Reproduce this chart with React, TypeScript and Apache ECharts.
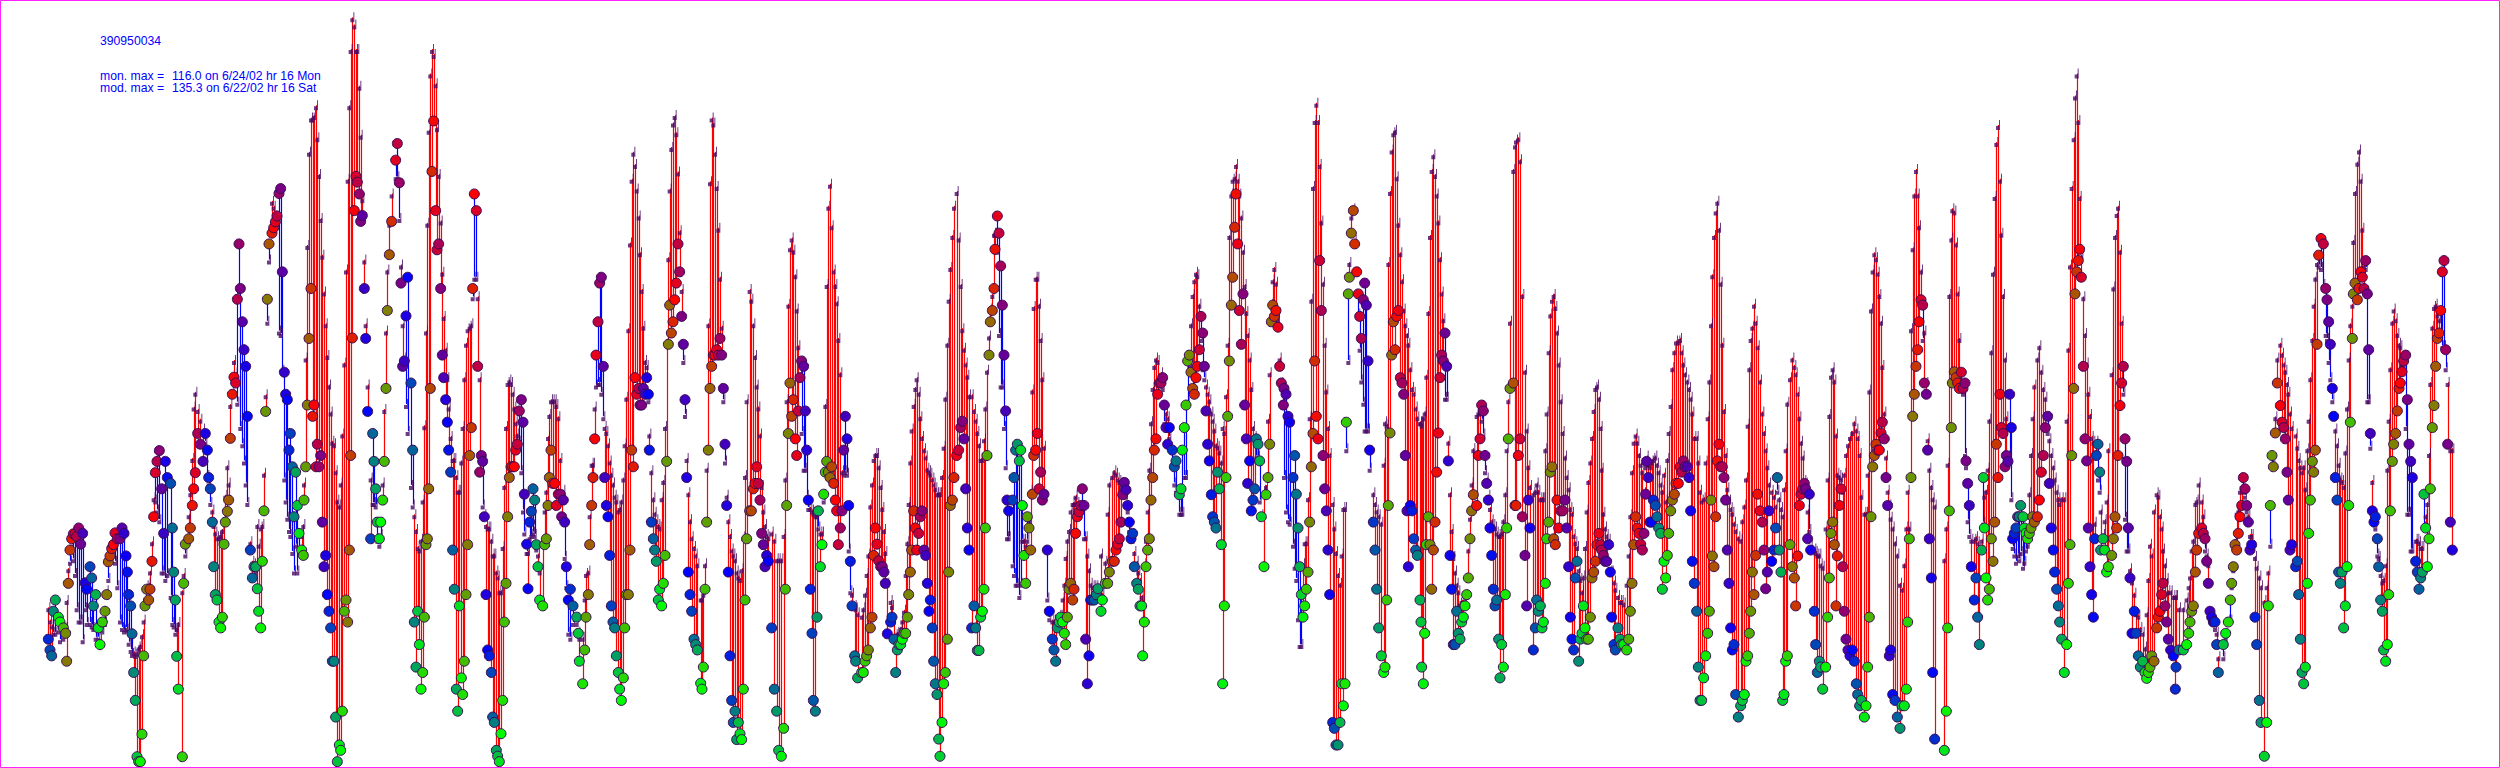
import React, { useEffect, useRef } from "react";
import * as echarts from "echarts";

// Readings from the picture: [position along the time axis, model reading, monitor reading]
const stretch1 = [[55,1240,1305],[60,1265,1327],[65,1275,1339],[70,1290,1248],[76,1290,1225],[85,1285,1260],[90,1305,1270],[100,1300,1282],[107,1280,1293],[110,1225,1350],[115,1160,1191],[120,1145,1123],[125,1110,1100],[130,1140,1090],[135,1170,1090],[140,1240,1095],[146,1265,1078],[152,1265,1111],[158,1305,1089],[165,1240,1190],[170,1270,1203],[180,1270,1157],[185,1275,1180],[190,1280,1237],[197,1300,1214],[205,1300,1282],[210,1305,1316],[217,1285,1270],[225,1270,1248],[230,1205,1214],[235,1180,1147],[240,1125,1135],[245,1115,1120],[250,1100,1112],[255,1145,1088],[262,1195,1100],[270,1265,1100],[276,1280,1078],[282,1285,1089],[288,1280,1135],[292,1283,1168],[296,1310,1214],[302,1325,1237],[306,1333,1294],[311,1330,1373],[316,1335,1430],[321,1330,1545],[326,1320,1555],[331,1315,1555],[336,1295,1499],[341,1265,1339],[345,1220,1237],[350,1195,1203],[356,1190,1225],[360,1165,1203],[366,1105,1146],[371,1015,1055],[376,1020,965],[381,1040,942],[388,1060,920],[395,1165,998],[401,1165,1089],[406,1180,942],[412,1170,975],[422,1215,987],[427,1270,1078],[431,1275,1168],[436,1290,1225],[440,1280,1340],[445,1270,1407],[457,1205,1545],[461,1170,1191],[466,1130,1111],[476,1050,1100],[481,1005,1078],[487,935,1032],[491,830,998],[496,800,965],[503,835,885],[511,855,907],[519,875,942],[526,900,885],[532,970,919],[536,985,975],[541,1025,998],[547,1040,1066],[551,1070,1157],[556,1085,1214],[561,1095,1225],[567,1095,1270],[572,1090,1282],[577,1080,1260],[582,1060,1111],[586,1010,1066],[592,950,1044],[596,985,1021],[601,825,895],[607,800,805],[612,735,770],[617,760,782],[622,820,611],[627,590,498],[631,870,589],[637,905,657],[642,940,714],[647,985,748],[652,1025,850],[661,1105,1123],[667,1145,1180],[672,1150,1157],[677,1165,1157],[682,1070,1202],[686,1110,1248],[692,1075,1282],[697,1070,1146],[702,965,1043],[707,805,840],[712,655,611],[717,530,498],[726,410,476],[731,420,465],[736,440,453],[741,445,441],[747,675,395],[752,680,385],[757,755,555],[763,975,760],[767,1020,805],[772,1055,816],[777,1080,919],[781,1090,885],[787,1125,953],[792,1165,1055],[797,1110,964],[802,1165,1032],[807,1125,1089]];
const stretch2 = [[5,1090,1123],[10,1070,1134],[12,985,1021],[17,730,953],[22,500,827],[27,310,691],[33,240,589],[38,240,850],[42,235,827],[48,215,953],[52,280,907],[57,355,953],[62,445,930],[67,520,1066],[72,595,1157],[77,660,1134],[82,725,1214],[87,785,1248],[92,840,1282],[97,900,1350],[102,905,1350],[107,960,1464],[112,1020,1555],[118,1030,1521],[122,985,1532],[127,885,1452],[133,740,1248],[138,550,1225],[143,365,1270],[148,215,1123],[152,100,930],[157,35,690],[163,50,430],[168,100,360],[172,100,372],[178,175,396],[182,275,452],[187,405,440],[193,530,589],[197,660,691],[203,785,840],[212,975,1100],[218,1025,885],[222,1025,942],[227,1030,998],[232,1100,1066],[238,1110,1100],[242,1090,1066],[248,985,1021],[253,835,942],[258,675,793],[262,550,634],[268,455,520],[275,395,452],[287,360,327],[292,360,293],[298,445,373],[303,540,578],[308,660,748],[313,730,737],[318,825,645],[323,880,566],[333,990,782],[338,1030,919],[343,1050,1270],[348,1080,1362],[353,1115,1248],[358,1120,1316],[363,1100,1407],[368,1020,1373],[373,868,1260],[378,675,1112],[382,455,1100],[386,265,998],[391,150,793],[396,100,350],[401,110,247],[407,170,430],[411,260,510],[416,355,498],[422,450,589],[427,555,725],[431,645,771],[437,710,816],[442,770,862],[446,830,919],[452,890,964],[458,935,1123],[463,935,1203],[469,970,1407],[473,1000,1452],[478,1000,1237],[484,940,1384],[488,870,1418],[493,770,1350],[498,700,1214],[503,670,1112],[509,665,930],[514,660,873],[518,605,589],[523,565,396],[529,565,430],[533,605,748],[539,770,964],[544,935,930],[548,1030,942],[553,1050,1055],[558,1070,1214],[563,1075,1327],[568,1075,1339],[574,1100,1373],[578,1130,1464],[583,1130,1475],[589,1165,1532],[593,1175,1544],[598,1205,1555],[603,1205,1498],[608,1115,1430],[613,990,1270],[618,870,1191],[623,780,1055],[628,775,975],[633,780,953],[638,800,953],[643,830,953],[647,860,919],[652,885,907],[658,900,839],[664,960,816],[669,1040,862],[673,1085,1009],[680,1125,1111],[684,1125,1202],[689,1095,1066],[694,1090,1044],[699,1085,998],[704,1090,1021],[709,1118,1112],[714,1130,1157],[719,1165,1225],[728,1110,1237],[734,1040,1112],[739,1000,1100],[744,890,1032],[748,845,975],[753,815,919],[758,815,987],[764,815,987],[769,825,1032],[775,850,1009],[781,935,1009],[785,1020,1055],[790,1000,1021],[794,1135,1066],[799,1195,1157],[805,1290,1225],[811,1300,1203],[819,1270,1237],[830,1270,1260],[835,1290,1293],[838,1300,1350]];
const stretch3 = [[8,1300,1396],[14,1220,1327],[18,1170,1260],[25,1165,1214],[29,1050,1112],[35,945,1032],[39,945,975],[44,830,896],[48,785,725],[54,780,657],[59,780,578],[64,800,566],[70,850,748],[74,870,975],[79,880,1032],[84,905,1055],[89,940,1134],[94,965,1237],[99,985,1270],[104,1010,1282],[109,1020,1339],[115,1040,1373],[119,1035,1407],[124,1020,1430],[130,975,1384],[134,905,1282],[139,810,1214],[145,670,1214],[150,495,1123],[155,365,919],[160,310,953],[165,335,771],[170,385,805],[176,440,793],[180,515,827],[185,590,827],[190,665,793],[195,735,805],[200,745,771],[205,815,805],[208,885,919],[214,960,1066],[220,1015,1100],[224,1045,1123],[229,1060,1146],[235,1070,1225],[239,1075,1203],[245,1015,1237],[250,980,1191],[255,870,1134],[260,700,942],[265,525,703],[269,385,623],[274,300,680],[279,250,657],[284,235,612],[289,270,578],[294,350,498],[299,470,555],[305,590,646],[310,735,703],[315,845,816],[320,935,975],[325,1005,1168],[330,1060,1214],[335,1095,1248],[342,1115,1305],[347,1130,1316],[352,1150,1327],[362,1220,1395],[366,1220,1407],[370,1210,1362],[375,1150,1203],[380,955,1066],[385,660,919],[390,370,793],[395,240,748],[400,250,725],[405,310,725],[410,380,714],[415,465,725],[420,565,691],[425,665,725],[430,815,793],[435,940,907],[440,1010,1032],[445,1060,1168],[450,1090,1339],[455,1120,1430],[460,1130,1475],[465,1140,1452],[470,1165,1510],[475,1175,1475],[480,1180,1498],[485,1160,1510],[490,1095,1407],[495,970,1225],[500,815,1100],[509,590,1043],[514,610,1043],[520,660,998],[525,725,987],[530,785,953],[535,830,987],[540,885,1021],[545,990,1089],[550,1040,1112],[555,1070,1157],[560,1090,1134],[565,1095,1146],[575,1085,1282],[583,1100,1407],[590,1140,1452],[596,1140,1532],[604,1140,1544],[611,1090,1487],[616,975,1203],[620,815,1032],[625,620,885],[630,505,782],[635,485,850],[640,510,816],[646,560,896],[650,630,930],[655,705,839],[660,765,771],[665,880,737],[671,955,748],[676,955,839],[680,1010,919],[685,1035,1021],[691,1035,1203],[696,1040,1293],[700,1045,1430],[706,1050,1452],[711,1050,1260],[715,1075,1043],[721,1085,1157],[726,1085,1112],[731,1020,1009],[736,825,964],[740,580,942],[745,420,964],[750,375,975],[755,460,953],[761,550,987],[766,580,1021],[770,615,1043],[775,690,1112],[781,760,1078],[786,960,1043],[791,965,919],[796,960,850],[801,965,896],[806,1120,1032],[811,1205,1146],[816,1210,1237],[824,1235,1339],[827,1240,1350],[833,1250,1384]];
const stretch4 = [[5,1255,1373],[10,1240,1373],[15,1210,1350],[20,1170,1339],[25,1130,1327],[31,1030,1282],[36,985,1260],[41,935,1134],[46,925,1078],[51,925,1111],[56,950,1145],[62,990,1157],[67,1035,1157],[72,1080,1168],[76,1125,1191],[82,1190,1294],[92,1225,1270],[96,1235,1260],[102,1265,1305],[107,1295,1373],[112,1290,1327],[117,1290,1316],[122,1280,1316],[127,1265,1305],[132,1245,1293],[137,1170,1293],[142,1105,1260],[146,1025,1214],[151,940,1168],[155,875,1123],[161,825,1043],[166,790,1078],[170,770,1123],[176,800,1089],[181,850,1055],[186,890,1043],[192,915,1123],[197,930,1134],[202,955,1191],[207,960,1248],[211,965,1225],[217,975,1282],[221,985,1350],[226,995,1396],[231,1005,1418],[236,1005,1509],[240,1005,1544],[246,970,1475],[251,910,1396],[256,810,1373],[262,700,1305],[266,610,1168],[271,545,1032],[277,480,1021],[282,420,975],[290,390,930],[296,485,919],[302,580,873],[307,670,860],[312,710,896],[317,740,998],[322,765,1078],[327,805,1123],[335,805,1282],[342,835,1237],[347,855,1282],[352,880,1328],[357,905,1328],[362,935,1260],[367,935,1248],[372,895,1203],[376,830,1078],[381,755,930],[387,685,725],[391,630,657],[397,600,634],[402,475,589],[405,475,509],[412,510,441],[417,680,476],[422,785,543],[427,785,623],[432,870,725],[437,950,839],[441,1095,1021],[446,1095,1043],[458,1150,1021],[462,1170,975],[467,1190,919],[472,1190,907],[478,1215,941],[482,1190,919],[487,1100,1032],[492,1100,1134],[497,1110,1191],[502,1100,1055],[507,1060,1078],[512,1000,1123],[517,795,1009],[521,625,930],[527,565,919],[532,565,885],[537,620,998],[542,690,964],[547,770,1021],[552,910,1009],[562,1220,1123],[568,1260,1248],[577,1265,1305],[582,1265,1327],[587,1265,1350],[592,1260,1282],[598,1255,1270],[602,1255,1260],[608,1220,1270],[613,1190,1293],[617,1135,1316],[622,1100,1260],[627,1080,1203],[632,1040,1191],[638,1025,1225],[642,1025,1203],[647,1010,1089],[652,1025,1055],[657,1045,1045],[662,1030,1032],[667,1040,998],[672,1095,1032],[677,1095,1305],[682,1130,1396],[687,1160,1339],[692,1190,1225],[698,1195,1225],[703,1195,1225],[709,1195,1214],[714,1210,1202],[723,1130,1248],[727,1210,1225],[736,1145,1191],[743,1045,1191],[748,985,1168],[757,970,1146],[763,960,1146],[768,965,1123],[773,975,1111],[778,980,1100],[783,990,1066],[788,985,1010],[793,985,985],[798,1010,1000],[803,1040,1032],[808,1080,1066],[813,1100,1100],[818,1100,1089],[823,1125,1157],[830,1145,1191],[835,1165,1203],[840,1180,1237]];
const stretch5 = [[5,1215,1237],[8,1225,1339],[13,1150,1270],[18,1100,1157],[23,1040,1123],[28,955,1100],[33,860,1021],[38,790,975],[43,745,919],[48,730,896],[53,735,805],[58,780,782],[63,760,782],[68,790,771],[73,860,827],[78,840,873],[83,850,907],[88,890,873],[97,950,919],[103,985,953],[108,1000,941],[118,1045,1010],[123,1045,998],[127,1045,919],[133,970,873],[138,970,827],[143,820,737],[148,745,725],[153,660,760],[158,600,793],[163,570,805],[168,555,771],[172,560,748],[178,620,714],[183,690,646],[188,750,680],[193,770,748],[198,785,839],[203,800,907],[208,815,941],[214,840,1010],[218,855,1055],[223,875,1066],[228,905,1078],[233,910,964],[238,920,998],[244,940,1112],[248,870,1396],[253,880,1237],[258,805,975],[263,700,850],[268,480,737],[274,395,623],[278,365,566],[284,360,464],[288,335,396],[293,365,498],[298,395,634],[304,440,703],[309,510,600],[314,580,827],[319,635,896],[323,680,987],[329,730,941],[334,790,1043],[339,870,1021],[344,890,998],[349,930,896],[354,930,907],[359,1020,941],[364,1050,1055],[372,1000,1157],[378,990,1010],[384,855,975],[389,760,907],[394,620,657],[398,570,623],[403,545,646],[408,575,634],[414,650,668],[419,730,748],[424,780,782],[430,790,827],[432,970,793],[438,1040,805],[444,1060,850],[449,1065,862],[459,1110,975],[464,1155,930],[469,1180,1009],[474,1260,1078],[479,1315,1157],[484,1315,1214],[489,1150,1260],[494,1105,1237],[499,1105,1203],[504,1015,1168],[509,850,1066],[514,610,953],[519,380,885],[524,245,737],[529,210,850],[534,245,896],[539,335,532],[544,450,634],[549,575,930],[554,700,998],[559,795,1043],[564,870,1123],[569,925,1214],[578,1025,1475],[583,1075,1487],[588,1125,1521],[594,1170,1521],[600,1190,1475],[605,1130,1396],[610,1035,1441],[615,1035,1396],[619,915,862],[625,735,600],[628,535,566],[634,440,476],[640,425,430],[644,490,498],[650,555,555],[655,640,600],[659,710,646],[664,775,691],[670,820,612],[674,875,578],[679,875,623],[684,875,737],[689,955,919],[700,1005,1066],[705,1025,1123],[710,1040,1203],[716,1050,1282],[724,1065,1339],[731,945,1373],[735,860,1362],[740,865,1225],[745,535,1032],[750,390,884],[755,305,725],[760,270,657],[765,265,714],[770,360,646],[775,455,634],[781,515,771],[786,570,782],[791,630,805],[796,660,930],[801,680,1043],[805,700,1157],[811,750,1032],[816,790,1043],[821,800,1100],[827,830,1123],[832,850,1134]];
const stretch6 = [[0,860,1225],[3,860,1270],[5,865,1362],[10,850,1396],[14,840,1293],[19,765,1112],[25,635,1055],[30,480,1112],[35,345,1203],[40,315,1123],[45,355,1066],[50,395,964],[55,450,884],[60,525,771],[65,595,725],[70,650,737],[75,810,680],[80,810,748],[85,900,941],[90,1005,1134],[95,1080,1203],[100,1135,1316],[105,1165,1316],[110,1190,1248],[115,1205,1293],[120,1230,1305],[125,1225,1270],[130,1225,1260],[135,1225,1237],[140,1215,1214],[145,1120,1180],[150,1055,1100],[155,985,1043],[160,915,1010],[170,845,1032],[175,840,930],[180,840,896],[185,855,827],[190,885,839],[195,960,930],[200,975,987],[205,1010,1021],[210,1035,1078],[215,1060,1134],[220,1070,1203],[225,1075,1237],[230,1085,1225],[236,1090,1305],[240,1090,1384],[245,1085,1316],[250,1060,1362],[256,1005,1214],[260,915,1078],[265,815,896],[270,655,793],[280,345,782],[285,295,1032],[288,285,1032],[295,280,930],[300,325,896],[307,600,1055],[315,755,1134],[320,875,1237],[325,950,1021],[330,990,1078],[340,1005,1327],[346,1000,1282],[350,985,1225],[355,1000,1248],[361,1015,1237],[366,1015,1282],[370,1015,1270],[376,915,1191],[380,840,1100],[386,715,1066],[391,640,964],[396,610,953],[401,600,1100],[406,625,1112],[411,675,1021],[416,740,1078],[422,815,1043],[428,880,1043],[435,930,1021],[440,970,1078],[446,995,1157],[451,1035,1260],[456,1045,1305],[461,1090,1327],[466,1105,1180],[471,1115,1146],[476,1160,1350],[481,1180,1305],[486,1205,1293],[490,1175,1237],[495,1115,1282],[500,1040,1305],[505,980,1305],[511,940,1260],[516,890,1180],[521,835,1168],[526,790,1146],[531,785,1112],[537,810,1089],[542,870,1112],[545,955,1123],[550,1045,1134],[555,1075,1146],[560,1090,1146],[566,1100,1112],[571,1165,1168],[575,1165,1260],[582,1185,1316],[586,1200,1327],[594,1215,1282],[600,1225,1305],[605,1225,1316],[611,1230,1316],[620,1190,1327],[626,1130,1305],[631,1050,1248],[636,960,1191],[641,900,1112],[647,885,1055],[652,900,1078],[657,925,1089],[662,945,1111],[667,960,1123],[672,1005,1089],[677,950,1009],[680,930,942],[685,945,975],[690,950,1066],[695,940,1066],[700,935,1021],[706,930,1032],[711,945,1055],[716,960,1078],[722,985,1089],[727,1000,1203],[732,965,1146],[737,1020,1180],[742,935,1134],[746,880,1089],[752,825,1043],[757,750,1021],[763,715,1009],[768,695,987],[775,695,987],[780,690,953],[785,715,964],[790,740,941],[795,760,953],[802,775,953],[807,790,975],[812,810,1043],[817,840,1146],[823,890,1191],[830,890,1248],[835,940,1362]];
const stretch7 = [[0,1000,1430],[5,1020,1430],[11,1015,1384],[17,940,1339],[23,850,1293],[28,775,1248],[33,660,1021],[37,560,1135],[42,480,1157],[47,430,1055],[52,410,941],[57,465,907],[62,575,953],[67,700,953],[72,835,975],[77,925,1021],[82,995,1123],[87,1020,1191],[92,1035,1282],[97,1045,1327],[102,1065,1316],[107,1080,1418],[115,1095,1464],[122,1100,1441],[127,1060,1430],[133,1030,1418],[138,975,1350],[143,865,1339],[148,750,1293],[152,690,1248],[157,665,1168],[162,620,1214],[167,655,1134],[173,705,1009],[180,775,1043],[187,840,1066],[192,880,1123],[197,915,1202],[202,950,1168],[207,985,1043],[215,1000,1146],[222,1010,1123],[227,1030,1078],[232,1000,975],[238,1015,1123],[243,1035,1168],[248,1050,1430],[252,995,1418],[257,915,1350],[262,820,1339],[270,770,1112],[277,730,1157],[283,745,1180],[287,760,1237],[293,800,1135],[298,850,1032],[303,900,1009],[308,930,998],[313,980,987],[317,985,998],[323,1040,1100],[328,1080,1009],[332,1115,1123],[343,1120,1248],[347,1125,1316],[352,1130,1373],[358,1130,1350],[362,1150,1362],[368,1155,1407],[377,1075,1362],[383,975,1260],[388,845,1180],[393,765,1089],[398,750,1066],[403,775,1112],[408,885,1237],[412,965,1135],[418,970,1032],[423,975,998],[428,1000,1157],[433,965,1248],[438,925,1305],[444,905,1327],[450,890,1339],[457,880,1327],[463,860,1350],[469,875,1396],[473,890,1418],[479,925,1441],[484,1010,1430],[493,1045,1464],[498,1045,1441],[503,965,1362],[508,795,1260],[513,630,1055],[518,550,953],[523,515,930],[528,525,907],[533,555,919],[538,600,919],[543,655,884],[547,745,862],[553,840,896],[558,930,975],[563,1000,1032],[568,1030,1339],[572,1055,1327],[578,1075,1418],[585,1105,1430],[592,1130,1464],[600,1190,1487],[606,1200,1441],[613,1150,1441],[619,1075,1407],[623,1000,1270],[628,1075,1100],[633,670,975],[638,505,850],[643,395,805],[648,345,748],[653,395,714],[657,460,657],[663,550,612],[668,690,623],[673,675,782],[679,780,805],[683,895,919],[688,955,1100],[694,990,1180],[698,1015,1373],[704,1030,1509],[733,1140,1532],[739,1075,1452],[743,945,1282],[748,600,1043],[754,485,873],[757,425,782],[763,430,759],[768,495,771],[773,595,782],[778,690,793],[784,785,760],[789,800,793],[795,925,782],[798,950,941],[803,1060,987],[808,1090,1032],[814,1100,1157],[823,1100,1225],[828,1095,1180],[833,1105,1260],[838,1120,1316]];
const stretch8 = [[5,1100,1123],[10,1065,975],[13,1010,1078],[18,1000,1180],[23,955,1225],[28,855,1203],[34,715,1100],[39,555,1146],[44,400,1066],[49,290,907],[54,255,975],[60,365,805],[64,475,873],[69,600,885],[75,730,953],[79,850,930],[84,930,942],[89,925,805],[94,1015,873],[98,1115,1100],[103,1130,1089],[108,1145,1078],[113,1130,1055],[118,1140,1055],[122,1125,1032],[129,1155,1055],[133,1145,1078],[138,1120,1089],[143,1110,1100],[148,1005,1089],[153,925,1078],[158,850,1055],[163,785,1066],[172,730,1055],[178,705,1021],[184,755,964],[190,790,930],[196,810,873],[203,880,850],[208,895,987],[214,925,1078],[220,950,1123],[224,975,1168],[230,1000,1203],[235,1015,1237],[239,1025,1270],[245,1015,1305],[253,1015,1373],[260,855,1316],[265,710,1191],[270,540,1112],[275,380,930],[281,280,793],[285,195,600],[290,150,555],[295,245,532],[299,400,509],[304,520,566],[310,605,748],[315,680,896],[320,740,941],[325,800,1078],[330,845,1157],[335,890,1214],[340,900,1260],[344,1065,1100],[349,900,930],[354,975,907],[359,1000,964],[362,1040,1123],[369,1090,1100],[374,1060,1123],[380,1020,1168],[385,915,1157],[395,760,1134],[400,585,1100],[405,480,1055],[410,435,1078],[414,420,930],[420,510,828],[425,655,782],[430,800,748],[435,1055,896],[440,1120,942],[445,1120,1078],[450,1160,1180],[456,1185,1293],[463,1210,1248],[468,1250,1293],[475,1255,1339],[481,1280,1362],[488,1290,1350],[495,1320,1373],[500,1250,1385],[505,1180,1373],[510,1110,1362],[515,1130,1339],[522,1040,1350],[530,1005,1282],[535,1010,1260],[540,1050,1248],[545,1075,1214],[549,1120,1191],[555,1150,1237],[560,1180,1270],[565,1205,1305],[572,1205,1327],[580,1215,1339],[588,1215,1362],[586,1215,1407],[597,1240,1327],[610,1240,1327],[620,1220,1316],[626,1195,1293],[630,1175,1270],[635,1120,1248],[640,1100,1237],[646,1025,1168],[650,1020,1123],[656,985,1089],[665,1020,1078],[670,1050,1089],[675,1120,1100],[680,1130,1146],[685,1150,1191],[690,1250,1248],[695,1250,1260],[700,1260,1270],[705,1280,1270],[710,1290,1316],[715,1340,1373]];
const stretch9 = [[10,1340,1316],[17,1300,1293],[25,1265,1270],[31,1265,1225],[35,1195,1191],[40,1160,1157],[45,1100,1112],[50,1045,1123],[55,1040,1089],[60,1000,1055],[65,990,1032],[70,1000,975],[75,1010,998],[80,1040,1032],[85,1050,1066],[90,1090,1123],[95,1090,1112],[105,1135,1260],[110,1155,1316],[118,1175,1430],[123,1195,1475],[133,1225,1544],[140,1195,1475],[145,1165,1237],[151,1110,1032],[156,945,930],[160,945,953],[166,850,884],[172,730,782],[181,700,828],[186,720,862],[191,740,873],[196,755,896],[201,780,964],[205,800,1021],[210,840,1123],[215,870,1112],[227,885,1157],[232,910,1146],[236,935,1214],[241,950,1305],[246,960,1373],[251,950,1396],[256,995,1362],[262,915,1191],[266,855,1089],[271,770,1021],[277,690,942],[281,620,964],[286,565,919],[291,535,703],[296,540,521],[303,545,487],[310,580,498],[317,680,589],[321,690,612],[326,735,657],[331,770,703],[337,815,793],[341,850,850],[346,875,975],[351,905,1021],[356,945,1168],[361,975,1191],[366,980,1168],[371,990,1282],[376,920,1237],[381,830,1157],[386,730,1032],[391,660,862],[397,620,691],[400,490,600],[405,390,578],[412,330,612],[417,305,589],[422,365,555],[427,465,566],[432,540,589],[437,545,532],[442,815,600],[446,815,714],[451,910,885],[457,980,1043],[462,1055,1066],[466,1075,1055],[472,1130,1100],[476,1135,1157],[482,1170,1225],[487,1185,1248],[491,1180,1327],[497,1150,1350],[502,955,1316],[506,855,1214],[511,750,1043],[517,655,942],[521,630,907],[527,650,885],[532,680,839],[537,700,793],[541,705,782],[546,740,759],[551,745,737],[557,870,725],[562,1045,816],[567,1045,907],[572,1120,942],[577,1120,975],[587,1100,1146],[592,1100,1168],[597,1105,1203],[602,1115,1180],[607,1115,1168],[612,1075,1009],[617,1050,1078],[622,1025,1157],[627,925,1100],[631,780,998],[637,665,873],[642,625,828],[647,620,748],[652,640,691],[657,650,680],[662,675,634],[667,705,555],[672,705,532],[677,750,714],[683,780,907],[691,915,1066],[697,915,1123]];

// Where each stretch begins on the time axis, and how finely its positions were read
const stretchStarts = [30, 300, 580, 860, 1140, 1420, 1700, 1980, 2220];
const stretches = [stretch1, stretch2, stretch3, stretch4, stretch5, stretch6, stretch7, stretch8, stretch9];
const READ_STEP = 3;

// Scale of the readings: hours and ppb
const UNITS_PER_HOUR = 1.672;
const HOUR16_AT = 73;
const ZERO_READING = 1933;
const READINGS_PER_PPB = 14.1;
const toHour = (u: number) => (u - HOUR16_AT) / UNITS_PER_HOUR + 16;
const toPpb = (r: number) => (ZERO_READING - r) / READINGS_PER_PPB;

const siteId = "390950034";
const maxLabels = ["mon. max =", "mod. max ="];
const maxValues = ["116.0 on 6/24/02 hr 16 Mon", "135.3 on 6/22/02 hr 16 Sat"];

const rows: number[][] = [];
stretches.forEach((list, i) => {
  list.forEach(([x, mod, obs]) => {
    rows.push([toHour(stretchStarts[i] + x / READ_STEP), toPpb(mod), toPpb(obs)]);
  });
});

function hourColor(hour: number) {
  const h = ((hour % 24) + 24) % 24;
  const t = (((16 - h) * 15) % 360 + 360) % 360;
  let r = 0, g = 0, b = 0;
  if (t < 120) { g = t / 120; r = 1 - g; }
  else if (t < 240) { b = (t - 120) / 120; g = 1 - b; }
  else { r = (t - 240) / 120; b = 1 - r; }
  return `rgb(${Math.round(r * 255)},${Math.round(g * 255)},${Math.round(b * 255)})`;
}

const TICK = "path://M3 0 L4 0 L4 10 L0 10 L0 6 L3 6 Z";

export default function App() {
  const ref = useRef<HTMLDivElement>(null);
  useEffect(() => {
    document.body.style.margin = "0";
    const chart = echarts.init(ref.current!, null, { renderer: "svg" });
    const textStyle = { fill: "#0000ff", font: "12.2px 'Liberation Sans', Arial, sans-serif" };
    chart.setOption({
      animation: false,
      backgroundColor: "#ffffff",
      grid: { left: 0, right: 0, top: 0, bottom: 0 },
      xAxis: { type: "value", show: false, min: toHour(0), max: toHour(2500) },
      yAxis: { type: "value", show: false, min: toPpb(1568), max: toPpb(0) },
      graphic: [
        { type: "rect", shape: { x: 0.5, y: 0.5, width: 2499, height: 767 }, style: { fill: "none", stroke: "#ff22ff", lineWidth: 1 }, z: 100 },
        { type: "text", x: 100, y: 35, style: { ...textStyle, text: siteId } },
        { type: "text", x: 100, y: 70, style: { ...textStyle, text: maxLabels[0] } },
        { type: "text", x: 172, y: 70, style: { ...textStyle, text: maxValues[0] } },
        { type: "text", x: 100, y: 82, style: { ...textStyle, text: maxLabels[1] } },
        { type: "text", x: 172, y: 82, style: { ...textStyle, text: maxValues[1] } },
      ],
      series: [
        {
          type: "custom",
          data: rows,
          silent: true,
          z: 1,
          encode: { x: 0, y: [1, 2] },
          renderItem: (_p: any, api: any) => {
            const a = api.coord([api.value(0), api.value(1)]);
            const b = api.coord([api.value(0), api.value(2)]);
            const x = Math.round(a[0]) + 0.5;
            return {
              type: "line",
              shape: { x1: x, y1: a[1], x2: x, y2: b[1] },
              style: { stroke: api.value(1) >= api.value(2) ? "#ff0000" : "#0000ff", lineWidth: 1.2 },
            };
          },
        },
        {
          type: "scatter",
          data: rows.map((r) => [r[0], r[1]]),
          symbol: TICK,
          symbolSize: [4, 10],
          symbolKeepAspect: false,
          itemStyle: { color: "#4a0a66" },
          silent: true,
          z: 2,
        },
        {
          type: "scatter",
          data: rows.map((r) => ({
            value: [r[0], r[2]],
            itemStyle: { color: hourColor(r[0]) },
          })),
          symbol: "circle",
          symbolSize: 10,
          itemStyle: { borderColor: "#3a0a55", borderWidth: 1, opacity: 1 },
          silent: true,
          z: 3,
        },
      ],
    });
    return () => chart.dispose();
  }, []);
  return <div ref={ref} style={{ width: 2500, height: 768, position: "absolute", left: 0, top: 0 }} />;
}
